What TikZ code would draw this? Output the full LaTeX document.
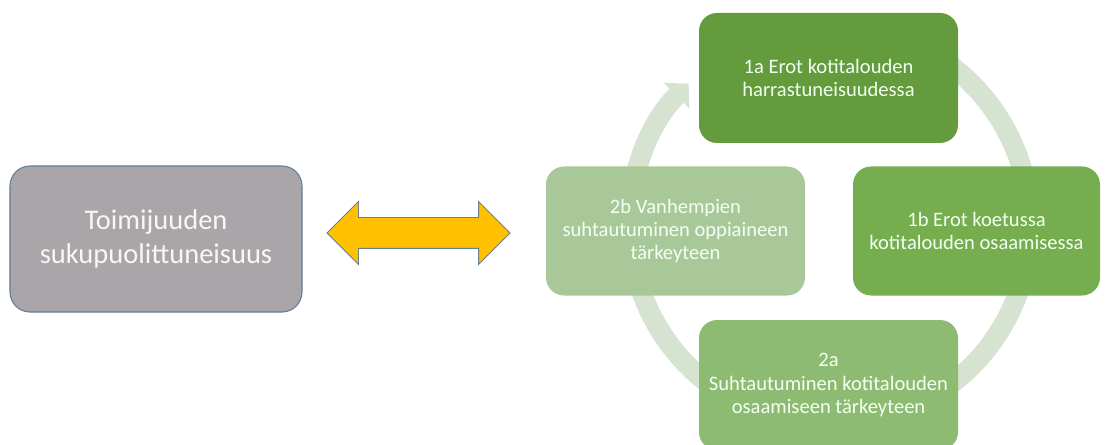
\documentclass[tikz,border=0pt]{standalone}
\usepackage{fontspec}
\setmainfont{Carlito}
\usepackage{xcolor}
\usepackage{tikz}
\usetikzlibrary{arrows.meta,positioning,shapes.arrows}

\definecolor{agencygray}{HTML}{A9A5A9}
\definecolor{agencyedge}{HTML}{5E7E9E}
\definecolor{linkyellow}{HTML}{FFC000}
\definecolor{linkedge}{HTML}{6A7F8C}
\definecolor{greenA}{HTML}{649B3C}
\definecolor{greenB}{HTML}{76AD4F}
\definecolor{greenC}{HTML}{8EBB72}
\definecolor{greenD}{HTML}{A9C899}
\definecolor{ringgreen}{HTML}{D6E3D0}

\begin{document}
\begin{tikzpicture}[
  agencybox/.style={rectangle, rounded corners=0.4cm, draw=agencyedge, line width=0.6pt, fill=agencygray, align=center, text=white!94!gray, font=\fontsize{16.2}{19.5}\selectfont, minimum width=5.84cm, minimum height=2.92cm},
  cyclebox/.style={rectangle, rounded corners=0.36cm, align=center, text=white!95!green, font=\fontsize{11.7}{13.2}\selectfont, minimum width=5.18cm, minimum height=2.58cm, inner sep=0pt},
  linkarrow/.style={double arrow, draw=linkedge, line width=0.5pt, fill=linkyellow, minimum height=3.66cm, double arrow head extend=0.32cm, inner xsep=0pt, inner ysep=0.3cm},
  ring/.style={draw=ringgreen, line width=0.4cm, -{Triangle[width=0.7cm, length=0.34cm]}}
]
  \useasboundingbox (0,0) rectangle (22.18,-8.9);
  \def\hx{16.6} \def\hy{-4.5} \def\hr{4.0}
  \coordinate (hub) at (\hx,\hy);
  \draw[ring] (hub) ++(100:\hr) arc[start angle=100, end angle=-225, radius=\hr];

  \node[agencybox] (agency) at (3.12,-4.78) {Toimijuuden\\sukupuolittuneisuus};
  \node[linkarrow] (link) at (8.37,-4.66) {};

  \node[cyclebox, fill=greenA, minimum height=2.6cm] (hobby) at (16.57,-1.56) {1a Erot kotitalouden\\harrastuneisuudessa};
  \node[cyclebox, fill=greenB, minimum width=4.94cm] (test) at (19.53,-4.62) {1b Erot koetussa\\kotitalouden osaamisessa};
  \node[cyclebox, fill=greenC, minimum height=2.6cm] (attitude) at (16.57,-7.70) {2a\\Suhtautuminen kotitalouden\\osaamiseen tärkeyteen};
  \node[cyclebox, fill=greenD] (parents) at (13.51,-4.62) {2b Vanhempien\\suhtautuminen oppiaineen\\tärkeyteen};
\end{tikzpicture}
\end{document}
